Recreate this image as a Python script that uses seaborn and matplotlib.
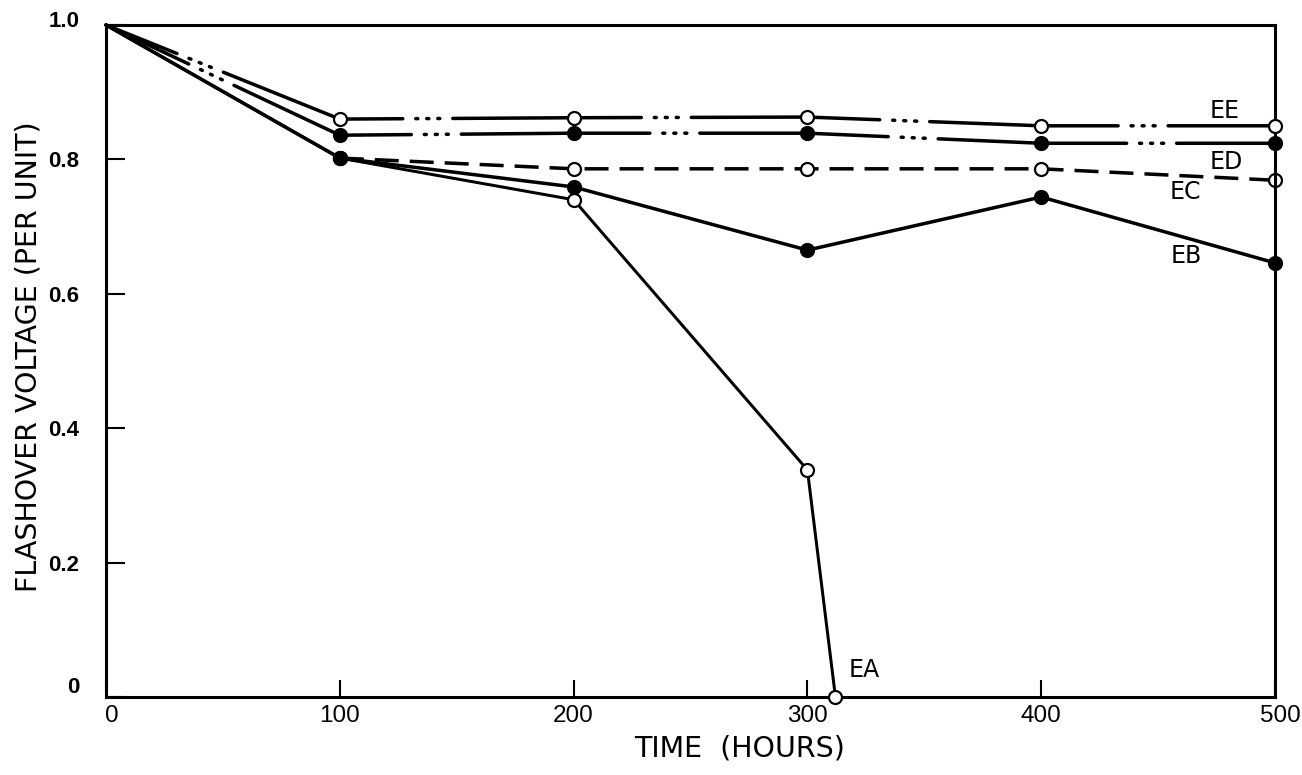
import matplotlib
matplotlib.use("Agg")
import matplotlib.pyplot as plt
import matplotlib.transforms as mtransforms
import seaborn as sns
import pandas as pd

# Flashover voltage (per unit) versus ageing time for five specimens
hours_ee = [0, 100, 200, 300, 400, 500]
volt_ee = [1.0, 0.860, 0.862, 0.863, 0.850, 0.850]

hours_ed = [0, 100, 200, 300, 400, 500]
volt_ed = [1.0, 0.836, 0.839, 0.839, 0.824, 0.824]

hours_ec = [100, 200, 300, 400, 500]
volt_ec = [0.802, 0.786, 0.786, 0.786, 0.769]

hours_eb = [0, 100, 200, 300, 400, 500]
volt_eb = [1.0, 0.802, 0.759, 0.665, 0.744, 0.646]

hours_ea = [0, 100, 200, 300, 312]
volt_ea = [1.0, 0.802, 0.740, 0.338, 0.0]

series_names = ["EE", "ED", "EC", "EB", "EA"]
x_ticks = [0, 100, 200, 300, 400, 500]
y_ticks = [0, 0.2, 0.4, 0.6, 0.8, 1.0]
y_tick_labels = ["0", "0.2", "0.4", "0.6", "0.8", "1.0"]

sns.set_style("white")
plt.rcParams["lines.scale_dashes"] = False
plt.rcParams["font.family"] = ["DejaVu Sans"]
plt.rcParams["text.color"] = "black"
plt.rcParams["axes.labelcolor"] = "black"
plt.rcParams["xtick.color"] = "black"
plt.rcParams["ytick.color"] = "black"

PX = 0.72  # points per pixel at 100 dpi

fig = plt.figure(figsize=(13.02, 7.75), dpi=100)
ax = fig.add_axes([106 / 1302, 1 - 697 / 775, (1275 - 106) / 1302, (697 - 25) / 775])

ms = 13 * PX
mew = 2.2 * PX


def draw(hours, volts, filled, lw_px=3.5, z=2):
    df = pd.DataFrame({"hours": hours, "volt": volts})
    # the common starting point at t = 0 carries no marker
    marked = [i for i, h in enumerate(hours) if h > 0]
    sns.lineplot(data=df, x="hours", y="volt", ax=ax, color="black",
                 linewidth=lw_px * PX, marker="o", markersize=ms,
                 markerfacecolor="black" if filled else "white",
                 markeredgecolor="black", markeredgewidth=mew,
                 markevery=marked,
                 estimator=None, sort=False, zorder=z, clip_on=False)
    return ax.lines[-1]


def dash_dot3(offset_px):
    on, dot, g1, g2 = 188.5, 2.0, 13.0, 9.0
    seq = [on, g1, dot, g2, dot, g2, dot, g1]
    return (offset_px * PX, [v * PX for v in seq])


# dashed curve (EC)
line_ec = draw(hours_ec, volt_ec, filled=False, z=2)
line_ec.set_linestyle((0, [24 * PX, 11 * PX]))
line_ec.set_dash_capstyle("butt")

# long dash / three dots curves (EE, ED)
line_ee = draw(hours_ee, volt_ee, filled=False, z=3)
line_ee.set_linestyle(dash_dot3(112))
line_ee.set_dash_capstyle("round")

line_ed = draw(hours_ed, volt_ed, filled=True, z=3)
line_ed.set_linestyle(dash_dot3(97))
line_ed.set_dash_capstyle("round")

# solid curves (EA, EB)
line_ea = draw(hours_ea, volt_ea, filled=False, lw_px=3.0, z=3)
line_eb = draw(hours_eb, volt_eb, filled=True, z=4)

# curve labels
label_pos = {"EE": (478.6, 0.872), "ED": (479, 0.796), "EC": (461.5, 0.751),
             "EB": (462, 0.656), "EA": (324.2, 0.040)}
for name in series_names:
    x, y = label_pos[name]
    ax.text(x, y, name, fontsize=17, ha="center", va="center", color="black")

ax.set_xlim(0, 500)
ax.set_ylim(0, 1.0)
ax.set_xticks(x_ticks)
ax.set_xticklabels([str(t) for t in x_ticks], fontsize=17.5,
                   family="Liberation Sans")
ax.set_yticks(y_ticks)
ax.set_yticklabels(y_tick_labels, fontsize=16, family="Liberation Sans",
                   fontweight="bold")

ax.tick_params(axis="y", direction="in", length=14, width=1.5, pad=19,
               left=True)
ax.tick_params(axis="x", direction="in", length=12, width=1.5, pad=6,
               bottom=True)

# nudge the corner labels away from the spines
ylabels = ax.get_yticklabels()
ylabels[0].set_transform(ylabels[0].get_transform()
                         + mtransforms.ScaledTranslation(0, 12 / 100, fig.dpi_scale_trans))
ylabels[-1].set_transform(ylabels[-1].get_transform()
                          + mtransforms.ScaledTranslation(0, 6 / 100, fig.dpi_scale_trans))
xlabels = ax.get_xticklabels()
xlabels[0].set_transform(xlabels[0].get_transform()
                         + mtransforms.ScaledTranslation(6 / 100, 0, fig.dpi_scale_trans))
xlabels[-1].set_transform(xlabels[-1].get_transform()
                          + mtransforms.ScaledTranslation(5 / 100, 0, fig.dpi_scale_trans))

for side in ["left", "right", "top", "bottom"]:
    ax.spines[side].set_visible(True)
    ax.spines[side].set_color("black")
    ax.spines[side].set_linewidth(2.2)

ax.set_xlabel("TIME  (HOURS)", fontsize=20.5)
ax.set_ylabel("FLASHOVER VOLTAGE (PER UNIT)", fontsize=20.5)
ax.xaxis.set_label_coords((740 - 106) / 1169, -(734 - 697) / 672)
ax.yaxis.set_label_coords(-(106 - 43) / 1169, (697 - 357) / 672)

fig.savefig("out.png", dpi=100, facecolor="white")
